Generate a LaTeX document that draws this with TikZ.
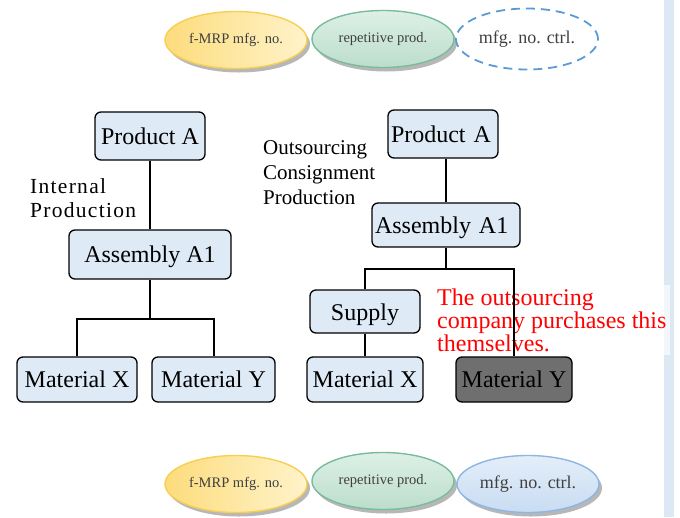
\documentclass[tikz,border=0pt]{standalone}
\usepackage{fontspec}
\setmainfont{Liberation Serif}
\newfontfamily\spacedfont[LetterSpace=6]{Liberation Serif}
\usetikzlibrary{shapes.geometric,shadows,calc}
\definecolor{colbox}{HTML}{DEEAF6}
\definecolor{coldark}{HTML}{6F6F6F}
\definecolor{colstrip}{HTML}{DDE8F5}
\definecolor{colyelA}{HTML}{FCDC7C}
\definecolor{colyelB}{HTML}{FFF3CA}
\definecolor{colyelline}{HTML}{F8CF52}
\definecolor{colgrnA}{HTML}{DDF0E6}
\definecolor{colgrnB}{HTML}{BCDDCC}
\definecolor{colgrnline}{HTML}{78BC9C}
\definecolor{colbluA}{HTML}{E4EEF9}
\definecolor{colbluB}{HTML}{C8DCF2}
\definecolor{colbluline}{HTML}{8DB6E2}
\definecolor{coldash}{HTML}{5B9BD5}
\definecolor{coltagtext}{HTML}{404040}

\begin{document}
\begin{tikzpicture}[
  x=1pt,y=-1pt,
  box/.style={draw,line width=1.3pt,rounded corners=6pt,fill=colbox,
    inner sep=0pt,font=\fontsize{24}{24}\selectfont,text height=19pt,text depth=3pt},
  lefttext/.style={inner xsep=3pt,align=left},
  link/.style={line width=2pt},
  tag/.style={ellipse,inner sep=0pt,minimum width=142pt,minimum height=57pt,
    line width=1.4pt,text=coltagtext,font=\fontsize{14.5}{14.5}\selectfont},
  tagshadow/.style={drop shadow={shadow xshift=3pt,shadow yshift=-4pt,
    fill=black!70,opacity=0.4}},
  note/.style={inner sep=0pt,anchor=north west,align=left},
]
  \useasboundingbox (0,0) rectangle (680,517);
  \fill[colstrip] (664,0) rectangle (674,517);

  % legend ellipses, top row
  \node[tag,tagshadow,draw=colyelline,left color=colyelA,right color=colyelB]
    (mrpT) at (236,40) {f-MRP mfg. no.};
  \node[tag,tagshadow,draw=colgrnline,top color=colgrnA,bottom color=colgrnB]
    (repT) at (383,39) {repetitive prod.};
  \node[tag,draw=coldash,line width=1.8pt,dash pattern=on 9pt off 6pt,
    font=\fontsize{18}{18}\selectfont,minimum height=61pt]
    (ctrlT) at (527,39) {mfg. no. ctrl.};

  % legend ellipses, bottom row
  \node[tag,tagshadow,draw=colyelline,left color=colyelA,right color=colyelB]
    (mrpB) at (236,484) {f-MRP mfg. no.};
  \node[tag,tagshadow,draw=colgrnline,top color=colgrnA,bottom color=colgrnB]
    (repB) at (383,481) {repetitive prod.};
  \node[tag,tagshadow,draw=colbluline,top color=colbluA,bottom color=colbluB,
    font=\fontsize{18}{18}\selectfont]
    (ctrlB) at (528,484) {mfg. no. ctrl.};

  % internal production
  \node[box,minimum width=110pt,minimum height=48pt] (prodL) at (150,136) {Product A};
  \node[box,minimum width=162pt,minimum height=49pt] (asmL) at (150,254.5) {Assembly A1};
  \node[box,minimum width=120pt,minimum height=45pt] (matXL) at (77,379.5) {Material X};
  \node[box,minimum width=123pt,minimum height=45pt] (matYL) at (213.5,379.5) {Material Y};
  \node[note,font=\spacedfont\fontsize{21.5}{24}\selectfont] (intL) at (30,178.5)
    {Internal\\Production};

  % outsourcing consignment production
  \node[box,lefttext,text width=104pt,minimum height=48pt] (prodR) at (443,134) {Product A};
  \node[box,lefttext,text width=142pt,minimum height=44pt,text height=20pt]
    (asmR) at (446,225) {Assembly A1};
  \node[box,minimum width=110pt,minimum height=43pt,text height=21pt] (supply) at (365,311.5) {Supply};
  \node[box,minimum width=116pt,minimum height=45pt] (matXR) at (365,379.5) {Material X};
  \node[box,fill=coldark,minimum width=116pt,minimum height=45pt] (matYR) at (514,379.5) {Material Y};
  \node[note,font=\fontsize{21}{25}\selectfont] (outR) at (263,140)
    {Outsourcing\\Consignment\\Production};

  % white backing fades the strip behind the last word
  \node[note,inner sep=4pt,text=red,fill=white,fill opacity=0.65,text opacity=1,
    font=\fontsize{24}{21}\selectfont] (buyR) at (433,284.5)
    {The outsourcing\\company purchases this\\themselves.};

  \coordinate (forkL) at ($(asmL.south)+(0,39)$);
  \coordinate (forkR) at ($(asmR.south)+(0,21)$);

  \draw[link] (prodL) -- (asmL);
  \draw[link] (asmL) -- (forkL);
  \draw[link] (matXL.north) |- (forkL) -| (matYL.north);

  \draw[link] (prodR.south -| asmR.north) -- (asmR);
  \draw[link] (asmR) -- (forkR);
  \draw[link] (supply.north) |- (forkR) -| (matYR.north);
  \draw[link] (supply) -- (matXR);
\end{tikzpicture}
\end{document}
